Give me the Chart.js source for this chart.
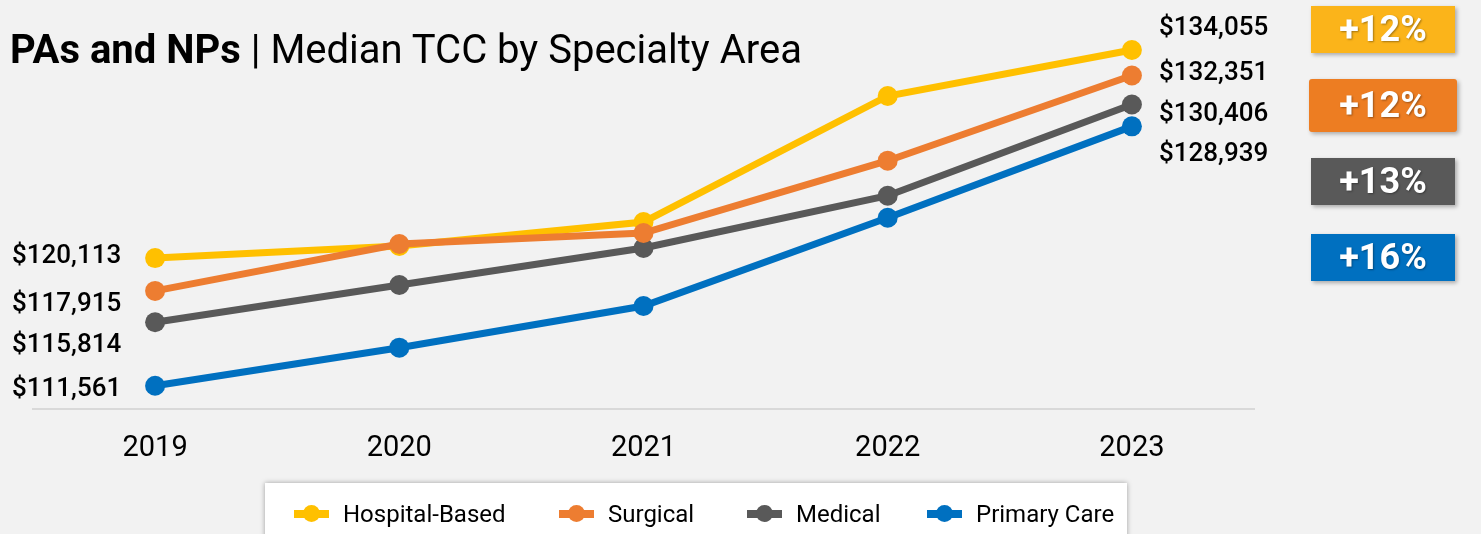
<!DOCTYPE html>
<html>
<head>
<meta charset="utf-8">
<script src="https://cdn.jsdelivr.net/npm/chart.js@4/dist/chart.umd.min.js"></script>
<style>
  html, body { margin: 0; padding: 0; background: #f2f2f2; }
  body { width: 1481px; height: 534px; position: relative; overflow: hidden; font-family: Roboto, "Noto Sans", sans-serif; }
  #wrap { position: absolute; left: 0; top: 0; width: 1481px; height: 534px; }
  #title { position: absolute; left: 10px; top: 27px; font-size: 40px; color: #000; white-space: nowrap; line-height: 46px; }
  #title b { font-weight: 700; }
  .val { position: absolute; font-size: 26px; font-weight: 500; color: #000; line-height: 30px; white-space: nowrap; }
  .badge { position: absolute; width: 144px; height: 47px; color: #fff; font-weight: 700; font-size: 36px; text-align: center; line-height: 47px;
           box-shadow: 2px 2px 4px rgba(0,0,0,0.3); text-shadow: 1px 1px 2px rgba(0,0,0,0.35); }
  #legend { position: absolute; left: 265px; top: 483px; width: 862px; height: 70px; background: #fff; box-shadow: 0 0 5px rgba(0,0,0,0.35); }
  .item { position: absolute; top: 16px; height: 30px; display: flex; align-items: center; font-size: 24px; color: #000; white-space: nowrap; }
  .mk { position: relative; width: 35px; height: 30px; margin-right: 14px; }
  .mk .ln { position: absolute; left: 0; top: 11px; width: 35px; height: 8px; }
  .mk .dot { position: absolute; left: 9px; top: 6px; width: 17px; height: 17px; border-radius: 50%; }
</style>
</head>
<body>
<div id="wrap"><canvas id="chart" width="1481" height="534"></canvas></div>
<div id="title"><b>PAs and NPs</b> | Median TCC by Specialty Area</div>
<div id="labels"></div>
<div id="legend"></div>
<script>
// data
const years = ['2019', '2020', '2021', '2022', '2023'];
const seriesNames = ['Hospital-Based', 'Surgical', 'Medical', 'Primary Care'];
const hospitalBased = [120113, 120923, 122531, 130974, 134055];
const surgical = [117915, 121057, 121794, 126639, 132351];
const medical = [115814, 118309, 120789, 124293, 130406];
const primaryCare = [111561, 114108, 116902, 122819, 128939];

const lineColors = ['#ffc000', '#ed7d31', '#595959', '#0070c0'];
const badgeColors = ['#fbb41a', '#ed7d22', '#595959', '#0070c0'];
const allSeries = [hospitalBased, surgical, medical, primaryCare];

// label placement (spread so they don't collide)
const leftLabelCenters = [254, 302, 343, 387];
const rightLabelCenters = [26, 71, 112, 152];
const badgeTops = [6, 79, 158, 234];

const fmt = v => '$' + v.toLocaleString('en-US');

const labelsDiv = document.getElementById('labels');
allSeries.forEach((s, i) => {
    const l = document.createElement('div');
    l.className = 'val';
    l.style.left = '12px';
    l.style.top = (leftLabelCenters[i] - 15) + 'px';
    l.textContent = fmt(s[0]);
    labelsDiv.appendChild(l);

    const r = document.createElement('div');
    r.className = 'val';
    r.style.left = '1159px';
    r.style.top = (rightLabelCenters[i] - 15) + 'px';
    r.textContent = fmt(s[s.length - 1]);
    labelsDiv.appendChild(r);

    const b = document.createElement('div');
    b.className = 'badge';
    const pct = Math.round((s[s.length - 1] / s[0] - 1) * 100);
    b.textContent = '+' + pct + '%';
    b.style.background = badgeColors[i];
    b.style.left = '1311px';
    b.style.top = badgeTops[i] + 'px';
    if (i === 1) {
        b.style.left = '1309px';
        b.style.width = '148px';
        b.style.height = '53px';
        b.style.lineHeight = '53px';
        b.style.borderRadius = '3px';
    }
    labelsDiv.appendChild(b);
});

// legend
const legendDiv = document.getElementById('legend');
const legendX = [29, 294, 482, 662];
seriesNames.forEach((name, i) => {
    const it = document.createElement('div');
    it.className = 'item';
    it.style.left = legendX[i] + 'px';
    it.innerHTML = '<span class="mk"><span class="ln" style="background:' + lineColors[i] + '"></span>' +
        '<span class="dot" style="background:' + lineColors[i] + '"></span></span>' + name;
    legendDiv.appendChild(it);
});

// Surgical sits on top of the others where they cross
const drawOrder = [2, 1, 3, 4];

const ctx = document.getElementById('chart').getContext('2d');
const chart = new Chart(ctx, {
    type: 'line',
    data: {
        labels: years,
        datasets: allSeries.map((s, i) => ({
            label: seriesNames[i],
            data: s,
            borderColor: lineColors[i],
            backgroundColor: lineColors[i],
            borderWidth: 7,
            pointRadius: 10,
            pointHoverRadius: 10,
            pointBorderWidth: 0,
            tension: 0,
            order: drawOrder[i],
            clip: false
        }))
    },
    options: {
        responsive: false,
        animation: false,
        layout: { padding: { left: 33, right: 227, top: 21, bottom: 0 } },
        plugins: { legend: { display: false }, tooltip: { enabled: false } },
        scales: {
            x: {
                offset: true,
                grid: { display: false, drawTicks: false },
                border: { display: true, color: '#d9d9d9', width: 2 },
                ticks: { color: '#000', font: { family: 'Roboto', size: 29 }, padding: 22 },
                afterFit: s => { s.height = 125; }
            },
            y: {
                display: false,
                min: 110000,
                max: 136000
            }
        }
    }
});
</script>
</body>
</html>
